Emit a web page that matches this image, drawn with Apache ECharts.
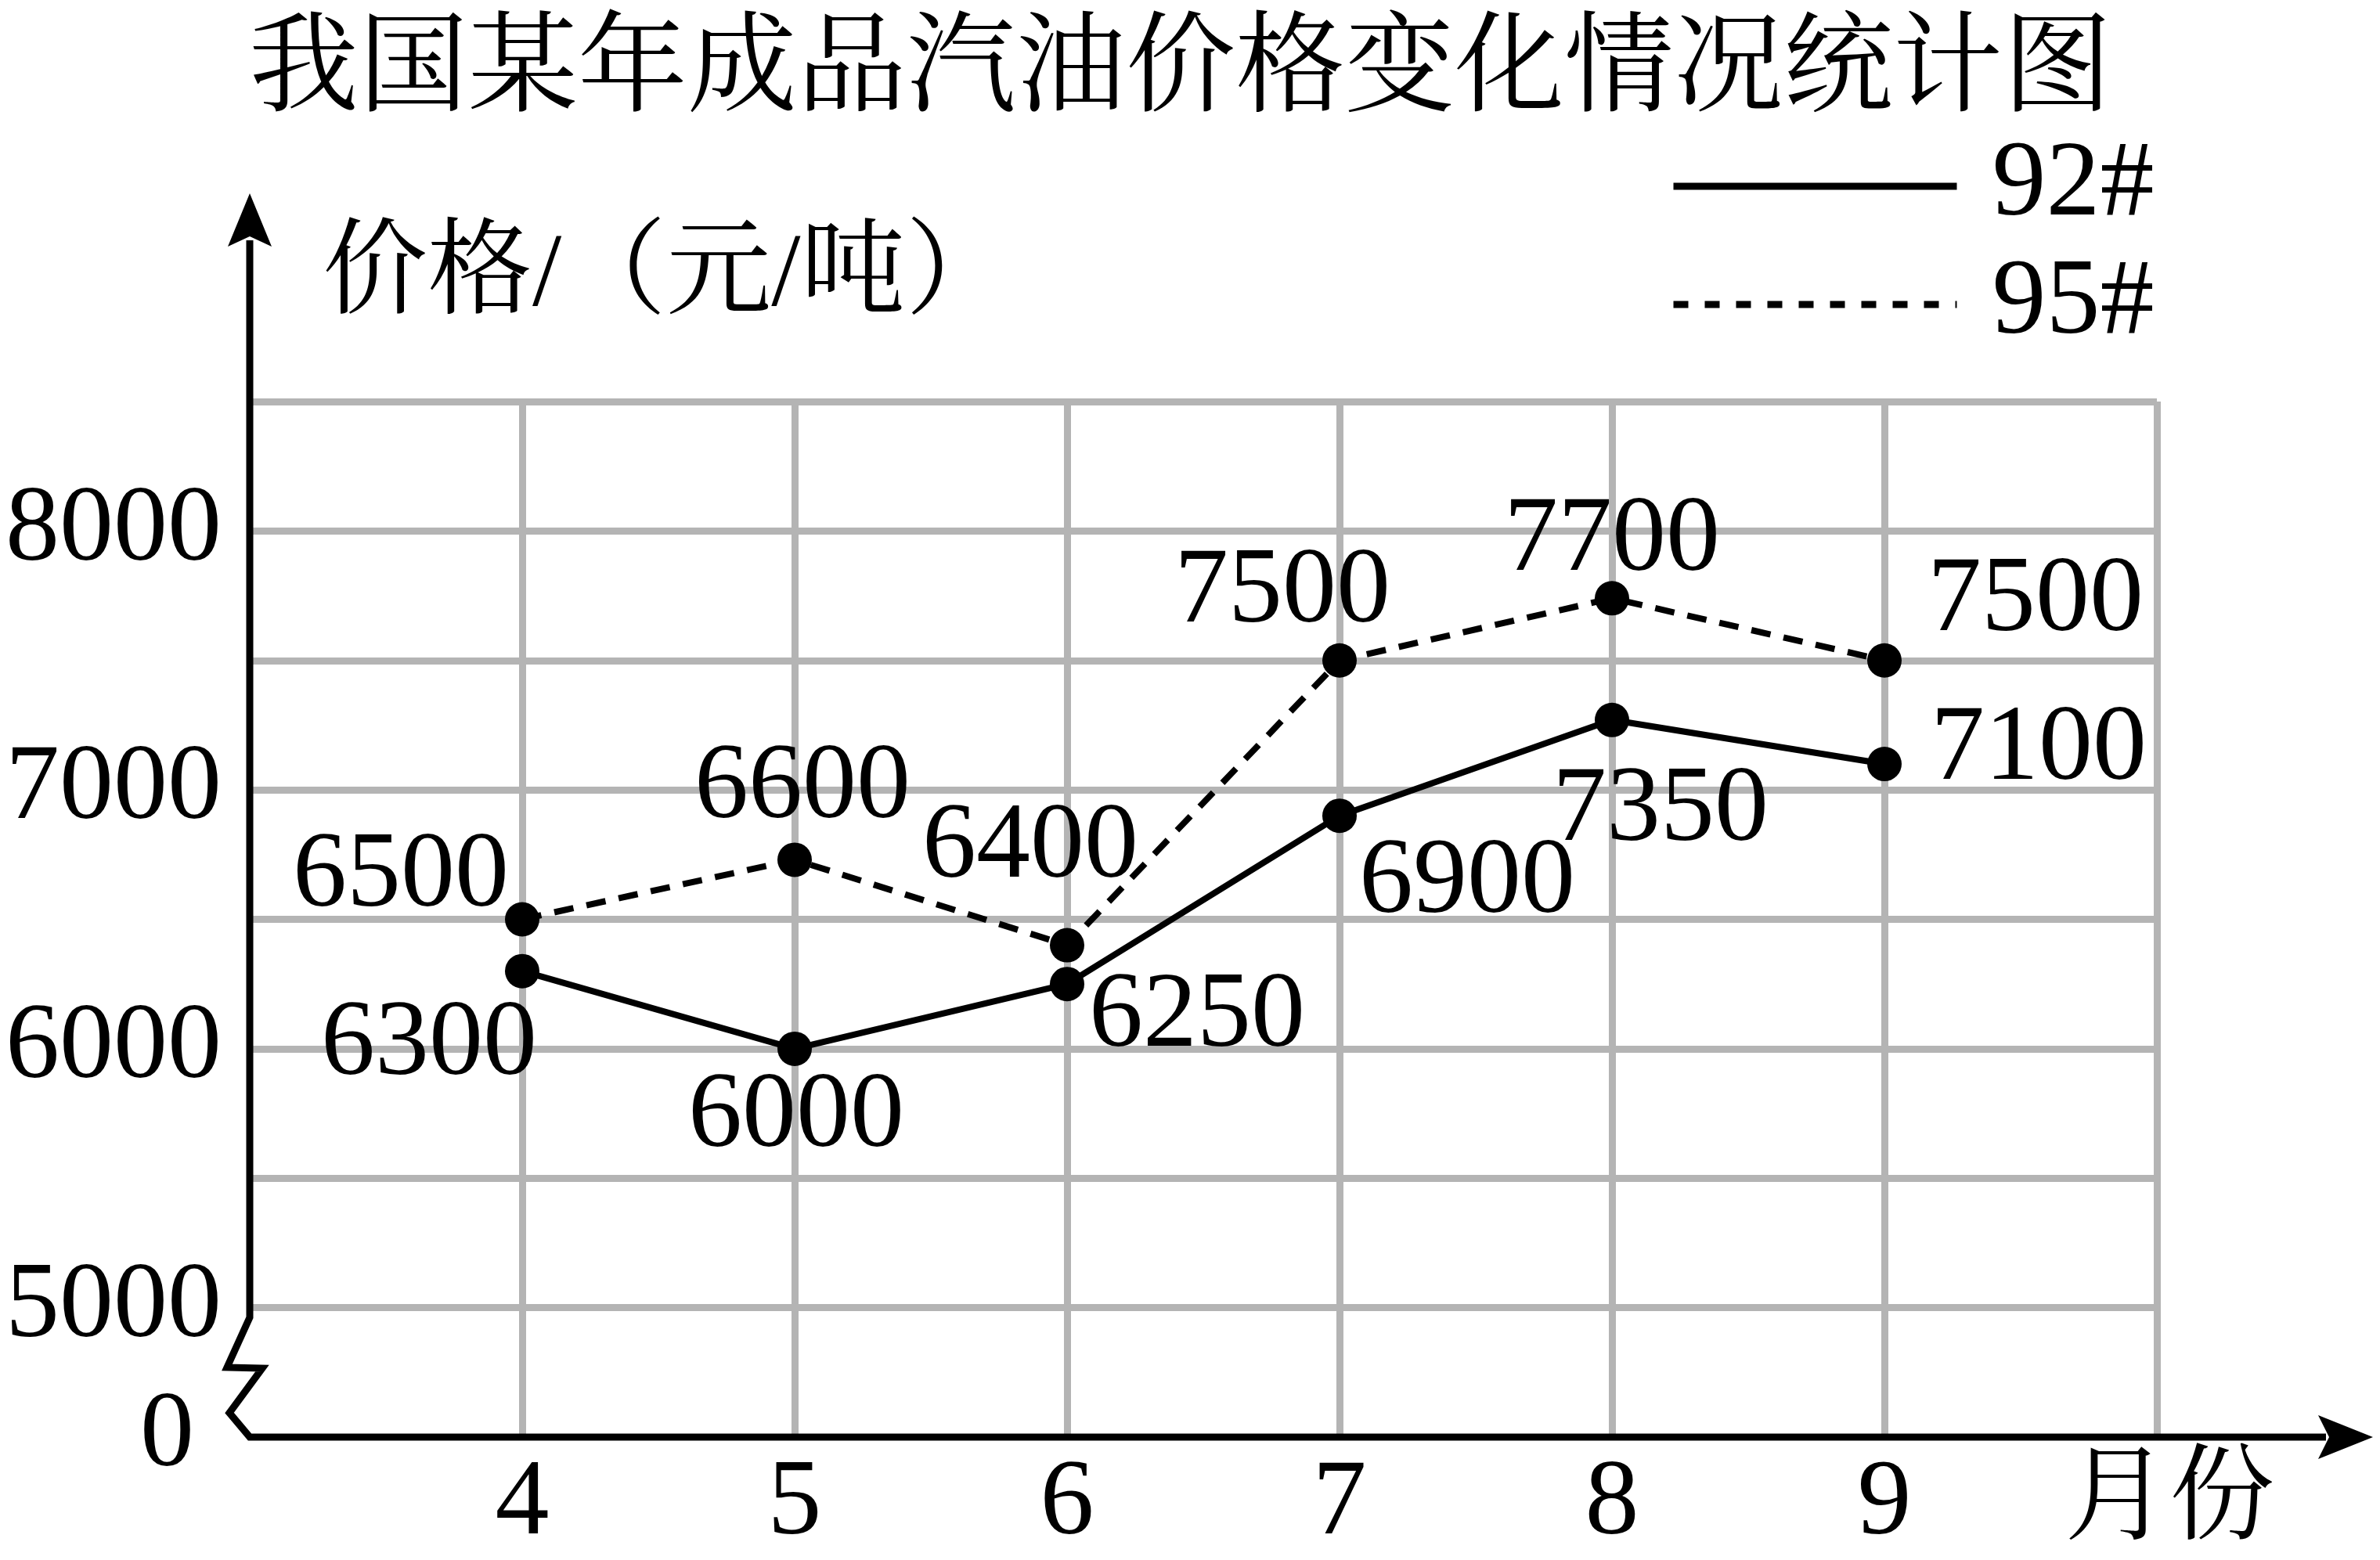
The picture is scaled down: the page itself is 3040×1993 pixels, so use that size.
<!DOCTYPE html>
<html>
<head>
<meta charset="utf-8">
<script src="https://cdn.jsdelivr.net/npm/echarts@6/dist/echarts.min.js"></script>
<style>
html, body { margin: 0; padding: 0; background: #fff; }
#chart { width: 3040px; height: 1993px; }
</style>
</head>
<body>
<div id="chart"></div>
<script>
// 月份与价格（点的高度按图中画出的位置读取，标注文字按图中数字）
const months = [4, 5, 6, 7, 8, 9]
const price92 = [6300, 6000, 6250, 6900, 7270, 7100]
const price95 = [6500, 6730, 6400, 7500, 7740, 7500]
const label92 = ['6300', '6000', '6250', '6900', '7350', '7100']
const label95 = ['6500', '6600', '6400', '7500', '7700', '7500']
const yTickValues = [4500, 5000, 6000, 7000, 8000]
const yTickText = ['0', '5000', '6000', '7000', '8000']
const xTickText = ['4', '5', '6', '7', '8', '9']

// 标注相对点的偏移（像素）
const offset92 = [[-119, 95], [2, 88], [166, 43], [163, 87], [62, 117], [197, -17]]
const offset95 = [[-155, -54], [10, -91], [-47, -124], [-73, -86], [0, -73], [193, -75]]

const SERIF = "'Liberation Serif', 'Times New Roman', serif"
const CJK = "'Liberation Serif', 'Noto Serif CJK SC', 'Noto Sans CJK SC', serif"
const GRID_COLOR = '#b4b4b4'

const chart = echarts.init(document.getElementById('chart'), null, { renderer: 'canvas' })

function lineSeries(name, values, labels, offsets, dash) {
  return {
    name,
    type: 'line',
    data: months.map((m, i) => ({ value: [m, values[i]], label: { offset: offsets[i] } })),
    symbol: 'circle',
    symbolSize: 44,
    itemStyle: { color: '#000' },
    lineStyle: { color: '#000', width: 8, type: dash },
    label: {
      show: true,
      position: 'inside',
      formatter: p => labels[p.dataIndex],
      color: '#000',
      fontSize: 138,
      fontFamily: SERIF,
      align: 'center',
      verticalAlign: 'middle',
    },
    emphasis: { disabled: true },
    silent: true,
    z: 3,
  }
}

function legendFor(name, top, dash) {
  return {
    data: [name],
    left: 2133,
    top,
    orient: 'vertical',
    padding: 0,
    itemWidth: 362,
    itemHeight: 9,
    itemStyle: { opacity: 0 },
    lineStyle: { width: 9, color: '#000', type: dash },
    textStyle: { fontSize: 138, fontFamily: SERIF, color: '#000', padding: [0, 0, 0, 40] },
    selectedMode: false,
  }
}

chart.setOption({
  animation: false,
  backgroundColor: '#fff',
  title: {
    text: '我国某年成品汽油价格变化情况统计图',
    left: 1508,
    textAlign: 'center',
    top: 24,
    padding: 0,
    textStyle: { fontSize: 140, fontWeight: 'normal', color: '#000', fontFamily: CJK },
  },
  legend: [legendFor('92#', 169, 'solid'), legendFor('95#', 320, [19, 21])],
  grid: { left: 319, top: 513, width: 2436, height: 1323, containLabel: false, outerBoundsMode: 'none' },
  xAxis: {
    type: 'value',
    min: 3,
    max: 10,
    interval: 1,
    axisLine: { show: false },
    axisTick: { show: false },
    axisLabel: {
      margin: 18,
      fontSize: 138,
      fontFamily: SERIF,
      color: '#000',
      verticalAlign: 'top',
      formatter: v => {
        const i = months.indexOf(v)
        return i >= 0 ? xTickText[i] : ''
      },
    },
    splitLine: { show: true, showMinLine: false, lineStyle: { color: GRID_COLOR, width: 9 } },
  },
  yAxis: {
    type: 'value',
    min: 4500,
    max: 8500,
    interval: 500,
    name: '价格/（元/吨）',
    nameLocation: 'end',
    nameGap: 158,
    nameMoveOverlap: false,
    nameTextStyle: {
      fontSize: 134, fontFamily: CJK, color: '#000',
      align: 'left', verticalAlign: 'middle', padding: [0, 0, 0, 93],
    },
    axisLine: { show: false },
    axisTick: { show: false },
    axisLabel: {
      margin: 36,
      showMinLabel: true,
      fontSize: 138,
      fontFamily: SERIF,
      color: '#000',
      formatter: v => {
        const i = yTickValues.indexOf(v)
        if (i < 0) return ''
        return i === 0 ? '{z|' + yTickText[i] + '}' : yTickText[i]
      },
      rich: {
        z: { fontSize: 138, fontFamily: SERIF, color: '#000', padding: [0, 35, 0, 0] },
      },
    },
    splitLine: { show: true, showMinLine: false, lineStyle: { color: GRID_COLOR, width: 9 } },
  },
  series: [
    lineSeries('92#', price92, label92, offset92, 'solid'),
    lineSeries('95#', price95, label95, offset95, [25, 17]),
  ],
})

// 坐标轴：带箭头和断裂折线，横轴名称放在轴下方
const [ox, oy] = chart.convertToPixel({ gridIndex: 0 }, [3, 4500])
const [rx] = chart.convertToPixel({ gridIndex: 0 }, [10, 4500])
const [, ty] = chart.convertToPixel({ gridIndex: 0 }, [3, 8500])
const yTip = ty - 266
const xTip = rx + 276

chart.setOption({
  graphic: [
    {
      type: 'polyline',
      z: 10,
      silent: true,
      shape: {
        points: [
          [ox, yTip + 60],
          [ox, oy - 153],
          [ox - 29, oy - 89],
          [ox + 16, oy - 88],
          [ox - 26, oy - 31],
          [ox, oy],
          [xTip - 60, oy],
        ],
      },
      style: { stroke: '#000', lineWidth: 9, fill: null, lineJoin: 'miter' },
    },
    {
      type: 'polygon',
      z: 10,
      silent: true,
      shape: { points: [[ox, yTip], [ox + 28, yTip + 68], [ox, yTip + 55], [ox - 28, yTip + 68]] },
      style: { fill: '#000' },
    },
    {
      type: 'polygon',
      z: 10,
      silent: true,
      shape: { points: [[xTip, oy], [xTip - 70, oy - 28], [xTip - 56, oy], [xTip - 70, oy + 28]] },
      style: { fill: '#000' },
    },
    {
      type: 'text',
      z: 10,
      silent: true,
      x: rx + 16,
      y: oy + 85,
      style: {
        text: '月份',
        fontSize: 134,
        fontFamily: CJK,
        fill: '#000',
        align: 'center',
        verticalAlign: 'middle',
      },
    },
  ],
})
</script>
</body>
</html>
